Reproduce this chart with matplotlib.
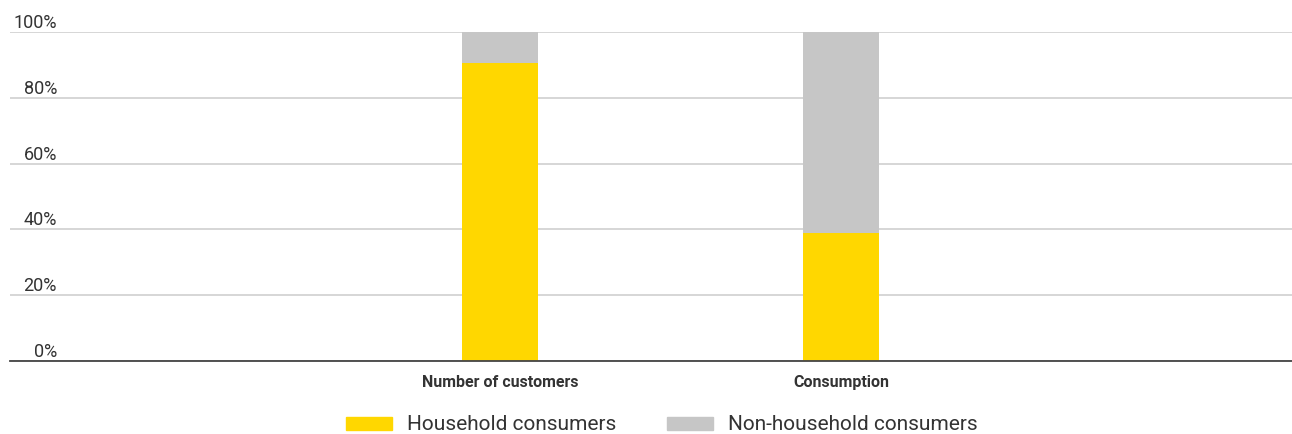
import matplotlib.pyplot as plt
from matplotlib.patches import Patch

# data
categories = ['Number of customers', 'Consumption']
household = [90.5, 39.0]
non_household = [9.5, 61.0]
yticks = [0, 20, 40, 60, 80, 100]

yellow = '#FFD700'
grey = '#C6C6C6'
text_col = '#333333'

plt.rcParams['font.family'] = ['Roboto', 'DejaVu Sans']

fig = plt.figure(figsize=(12.92, 4.34), dpi=100)
ax = fig.add_axes([10 / 1292, 1 - 361 / 434, 1 - 10 / 1292, 329 / 434])

x = range(len(categories))
ax.bar(x, household, width=0.223, color=yellow, zorder=3)
ax.bar(x, non_household, width=0.223, bottom=household, color=grey, zorder=3)

ax.set_xlim(-1.437, 2.323)
ax.set_ylim(0, 100)

# gridlines and spines
ax.set_yticks(yticks)
ax.set_yticklabels([f'{v}%' for v in yticks], color=text_col, fontsize=13)
for lbl in ax.get_yticklabels():
    lbl.set_verticalalignment('bottom')
    lbl.set_horizontalalignment('right')
ax.tick_params(axis='y', length=0, pad=-47 * 0.72)
ax.grid(axis='y', color='#D3D3D3', linewidth=1.3, zorder=0)
for s in ['top', 'right', 'left']:
    ax.spines[s].set_visible(False)
ax.spines['bottom'].set_color('#444444')
ax.spines['bottom'].set_linewidth(1.3)
ax.spines['bottom'].set_zorder(4)

ax.set_xticks(list(x))
ax.set_xticklabels(categories, fontsize=11.5, fontweight='bold', color=text_col)
ax.tick_params(axis='x', length=0, pad=10)

handles = [Patch(color=yellow, label='Household consumers'),
           Patch(color=grey, label='Non-household consumers')]
fig.legend(handles=handles, loc='center', bbox_to_anchor=(662 / 1292, 1 - 425 / 434),
           ncol=2, frameon=False, fontsize=15, handlelength=2.2, handleheight=0.6,
           handletextpad=0.72, columnspacing=2.45, labelcolor=text_col)

fig.savefig('out.png', dpi=100)
